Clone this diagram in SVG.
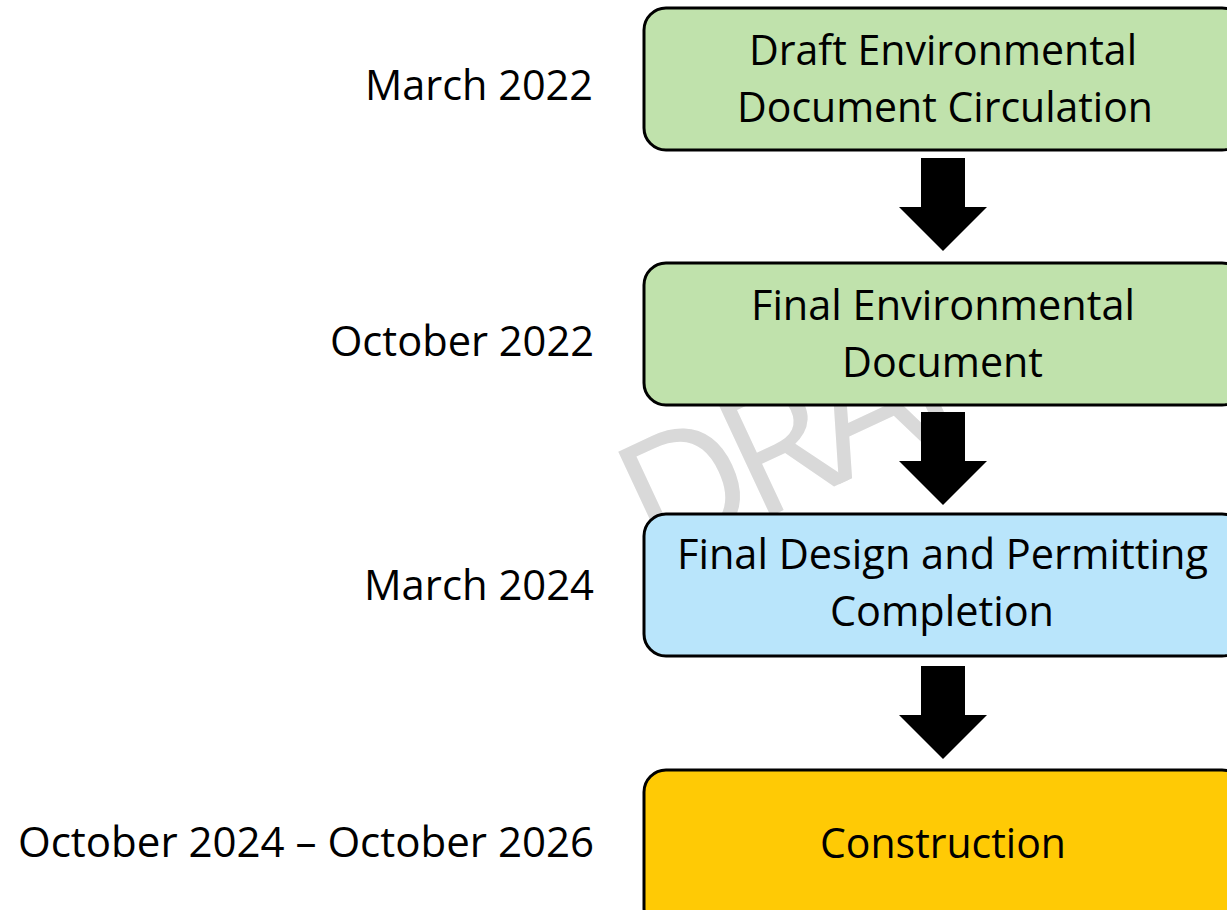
<svg xmlns="http://www.w3.org/2000/svg" width="1227" height="910" viewBox="0 0 1227 910">
  <style>
    .box { stroke: #000; stroke-width: 3; }
    .green { fill: #C0E2AC; }
    .blue { fill: #B9E5FB; }
    .yellow { fill: #FFCA05; }
    .t { font-family: "Open Sans", "Noto Sans", "Liberation Sans", sans-serif; font-size: 42px; fill: #000; }
    .c { text-anchor: middle; }
    .r { text-anchor: end; }
    .wm { font-family: "Open Sans", "Noto Sans", "Liberation Sans", sans-serif; font-size: 172px; fill: #D9D9D9; letter-spacing: -14px; }
    .arrow { fill: #000; }
  </style>
  <rect x="0" y="0" width="1227" height="910" fill="#FFFFFF"/>
  <text class="wm" transform="translate(655,570) rotate(-25)">DRAFT</text>

  <g id="connectors">
    <polygon class="arrow" points="921,158 965,158 965,207 987,207 943,251 899,207 921,207"/>
    <polygon class="arrow" points="921,412 965,412 965,461 987,461 943,505 899,461 921,461"/>
    <polygon class="arrow" points="921,666 965,666 965,715 987,715 943,759 899,715 921,715"/>
  </g>

  <g id="node-draft">
    <rect class="box green" x="644" y="8" width="600" height="142" rx="22"/>
    <text class="t c" x="943" y="65" textLength="388" lengthAdjust="spacingAndGlyphs">Draft Environmental</text>
    <text class="t c" x="945" y="122" textLength="416" lengthAdjust="spacingAndGlyphs">Document Circulation</text>
  </g>
  <g id="node-final-env">
    <rect class="box green" x="644" y="263" width="600" height="142" rx="22"/>
    <text class="t c" x="943" y="320" textLength="384" lengthAdjust="spacingAndGlyphs">Final Environmental</text>
    <text class="t c" x="942.5" y="377" textLength="201" lengthAdjust="spacingAndGlyphs">Document</text>
  </g>
  <g id="node-design">
    <rect class="box blue" x="644" y="514" width="600" height="142" rx="22"/>
    <text class="t c" x="942.5" y="569" textLength="531" lengthAdjust="spacingAndGlyphs">Final Design and Permitting</text>
    <text class="t c" x="942" y="626" textLength="224" lengthAdjust="spacingAndGlyphs">Completion</text>
  </g>
  <g id="node-construction">
    <rect class="box yellow" x="644" y="770" width="600" height="160" rx="22"/>
    <text class="t c" x="943" y="858" textLength="246" lengthAdjust="spacingAndGlyphs">Construction</text>
  </g>

  <g id="date-1"><text class="t r" x="593" y="100" textLength="228" lengthAdjust="spacingAndGlyphs">March 2022</text></g>
  <g id="date-2"><text class="t r" x="594" y="356" textLength="264" lengthAdjust="spacingAndGlyphs">October 2022</text></g>
  <g id="date-3"><text class="t r" x="594" y="600" textLength="230" lengthAdjust="spacingAndGlyphs">March 2024</text></g>
  <g id="date-4"><text class="t r" x="594" y="857" textLength="576" lengthAdjust="spacingAndGlyphs">October 2024 – October 2026</text></g>
</svg>
